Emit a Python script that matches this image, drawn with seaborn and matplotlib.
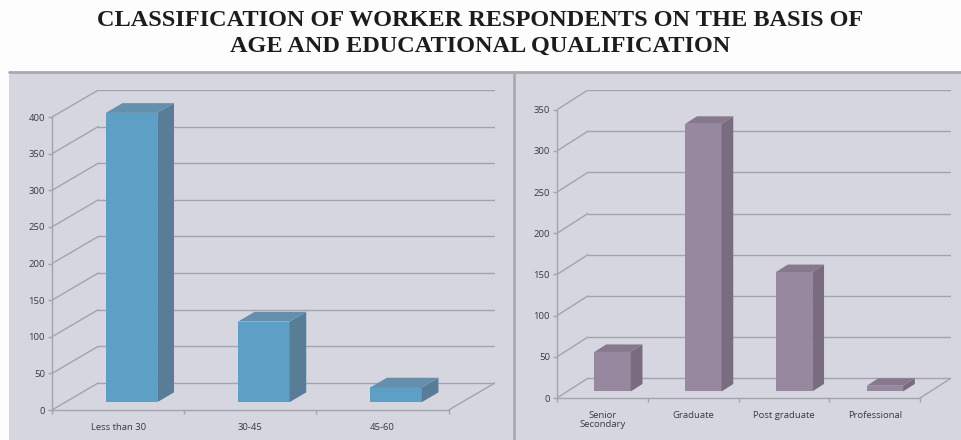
import matplotlib.pyplot as plt
import matplotlib.patches as mpatches
import seaborn as sns
import numpy as np

#### data
age_groups = ["Less than 30", "30-45", "45-60"]
age_counts = [395, 110, 20]

edu_groups = ["Senior\nSecondary", "Graduate", "Post graduate", "Professional"]
edu_counts = [48, 325, 145, 7]

age_ticks = [0, 50, 100, 150, 200, 250, 300, 350, 400]
edu_ticks = [0, 50, 100, 150, 200, 250, 300, 350]

sns.set_theme(style="white")
plt.rcParams['font.family'] = ['Open Sans', 'DejaVu Sans']

fig = plt.figure(figsize=(9.61, 4.40), dpi=100)
fig.patch.set_facecolor("#fdfdfd")

panel_bg = "#d6d6e1"
grid_c = "#a3a3ab"
# panels
fig.add_artist(mpatches.Rectangle((9/961, 0), 504/961, 368/440, transform=fig.transFigure,
                                  facecolor=panel_bg, edgecolor="none", zorder=0))
fig.add_artist(mpatches.Rectangle((515/961, 0), 446/961, 368/440, transform=fig.transFigure,
                                  facecolor=panel_bg, edgecolor="none", zorder=0))
fig.add_artist(plt.Line2D([9/961, 1], [368/440, 368/440], transform=fig.transFigure,
                          color="#a8a8ae", lw=2, zorder=1))
fig.add_artist(plt.Line2D([514/961, 514/961], [0, 368/440], transform=fig.transFigure,
                          color="#a8a8ae", lw=2, zorder=1))

fig.text(0.5, 1 - 21/440, "CLASSIFICATION OF WORKER RESPONDENTS ON THE BASIS OF",
         ha="center", va="center", family="Liberation Serif", weight="bold",
         fontsize=17.5, color="#1c1c1c")
fig.text(0.5, 1 - 46/440, "AGE AND EDUCATIONAL QUALIFICATION",
         ha="center", va="center", family="Liberation Serif", weight="bold",
         fontsize=17.5, color="#1c1c1c")


def draw_3d(ax, cats, vals, ticks, dx, dy, width, f0, f1, front, side, top):
    n = len(cats)
    ymax = ticks[-1]
    sns.barplot(x=cats, y=vals, ax=ax, color=front, width=width,
                saturation=1, edgecolor="none", zorder=3)
    ax.set_xlim(-0.5, n - 0.5 + dx)
    ax.set_ylim(0, ymax + dy)
    ax.set_facecolor("none")

    # back wall grid and diagonals
    for t in ticks:
        ax.plot([-0.5 + dx, n - 0.5 + dx], [t + dy, t + dy], color=grid_c, lw=1, zorder=1)
        ax.plot([-0.5, -0.5 + dx], [t, t + dy], color=grid_c, lw=1, zorder=1)
    ax.plot([n - 0.5, n - 0.5 + dx], [0, dy], color=grid_c, lw=1, zorder=1)

    # push bars back into the depth and add side/top faces
    for p in ax.patches:
        x0 = p.get_x() + f0 * dx
        h = p.get_height()
        w = p.get_width()
        p.set_x(x0)
        p.set_y(f0 * dy)
        d = (f1 - f0)
        y0 = f0 * dy
        side_poly = [(x0 + w, y0), (x0 + w + d * dx, y0 + d * dy),
                     (x0 + w + d * dx, y0 + h + d * dy), (x0 + w, y0 + h)]
        top_poly = [(x0, y0 + h), (x0 + w, y0 + h),
                    (x0 + w + d * dx, y0 + h + d * dy), (x0 + d * dx, y0 + h + d * dy)]
        ax.add_patch(mpatches.Polygon(side_poly, closed=True, facecolor=side,
                                      edgecolor="none", zorder=3))
        ax.add_patch(mpatches.Polygon(top_poly, closed=True, facecolor=top,
                                      edgecolor="none", zorder=3))

    for s in ["top", "right"]:
        ax.spines[s].set_visible(False)
    ax.spines["left"].set_bounds(0, ymax)
    ax.spines["bottom"].set_bounds(-0.5, n - 0.5)
    for s in ["left", "bottom"]:
        ax.spines[s].set_color(grid_c)
        ax.spines[s].set_linewidth(1)
        ax.spines[s].set_zorder(2)

    ax.set_yticks(ticks)
    ax.set_yticklabels([str(t) for t in ticks])
    ax.set_xticks(range(n))
    ax.set_xticks(np.arange(-0.5, n, 1.0), minor=True)
    ax.tick_params(axis="y", left=True, length=3, width=1, color=grid_c,
                   labelsize=6.8, labelcolor="#3a3a3a", pad=2)
    ax.tick_params(axis="x", which="major", bottom=False, labelsize=6.8,
                   labelcolor="#3a3a3a", pad=3)
    ax.tick_params(axis="x", which="minor", bottom=True, length=3, width=1, color=grid_c)
    for lbl in ax.get_xticklabels():
        lbl.set_linespacing(1.1)
    ax.set_xlabel("")
    ax.set_ylabel("")


ax1 = fig.add_axes([52/961, 30/440, 443/961, 320/440])
draw_3d(ax1, age_groups, age_counts, age_ticks, dx=0.35, dy=37, width=0.39,
        f0=0.29, f1=0.65, front="#5d9fc5", side="#597d96", top="#6490ad")

ax2 = fig.add_axes([557/961, 42/440, 394/961, 308/440])
draw_3d(ax2, edu_groups, edu_counts, edu_ticks, dx=0.34, dy=24, width=0.40,
        f0=0.33, f1=0.71, front="#97889f", side="#786c7e", top="#86788d")

plt.savefig("out.png", dpi=100, facecolor=fig.get_facecolor())
